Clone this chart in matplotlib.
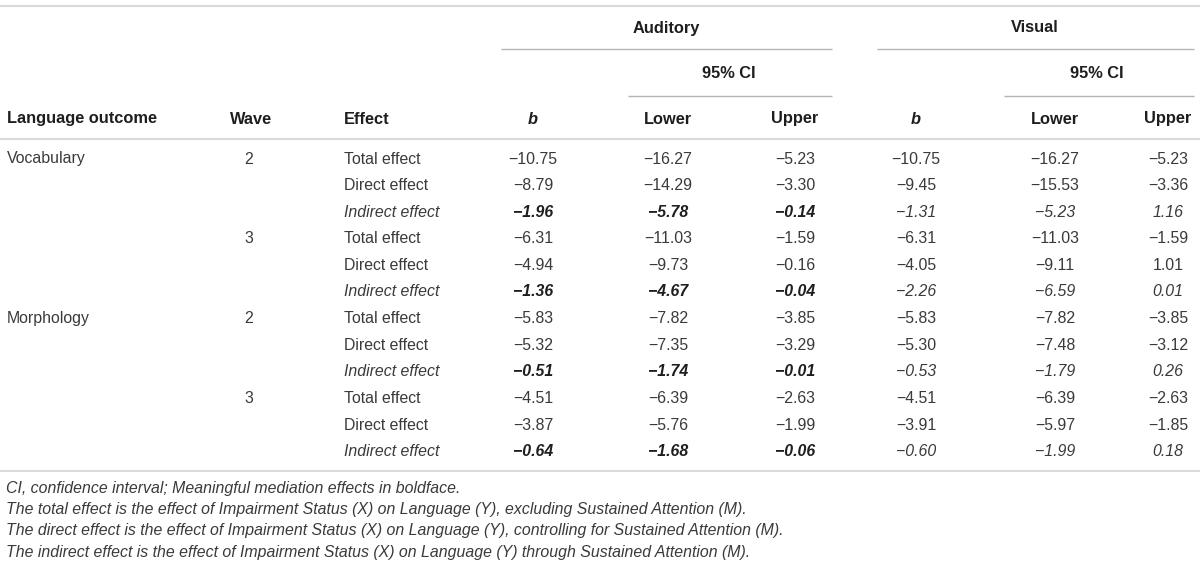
import matplotlib
matplotlib.use("Agg")
import matplotlib.pyplot as plt

plt.rcParams['font.family'] = ['Liberation Sans', 'DejaVu Sans']

# table content
outcomes = ["Vocabulary", "", "", "", "", "", "Morphology", "", "", "", "", ""]
waves = ["2", "", "", "3", "", "", "2", "", "", "3", "", ""]
effects = ["Total effect", "Direct effect", "Indirect effect"] * 4

aud_b = [-10.75, -8.79, -1.96, -6.31, -4.94, -1.36, -5.83, -5.32, -0.51, -4.51, -3.87, -0.64]
aud_lower = [-16.27, -14.29, -5.78, -11.03, -9.73, -4.67, -7.82, -7.35, -1.74, -6.39, -5.76, -1.68]
aud_upper = [-5.23, -3.30, -0.14, -1.59, -0.16, -0.04, -3.85, -3.29, -0.01, -2.63, -1.99, -0.06]
vis_b = [-10.75, -9.45, -1.31, -6.31, -4.05, -2.26, -5.83, -5.30, -0.53, -4.51, -3.91, -0.60]
vis_lower = [-16.27, -15.53, -5.23, -11.03, -9.11, -6.59, -7.82, -7.48, -1.79, -6.39, -5.97, -1.99]
vis_upper = [-5.23, -3.36, 1.16, -1.59, 1.01, 0.01, -3.85, -3.12, 0.26, -2.63, -1.85, 0.18]

col_names = ["b", "Lower", "Upper", "b", "Lower", "Upper"]

footnotes = [
    "CI, confidence interval; Meaningful mediation effects in boldface.",
    "The total effect is the effect of Impairment Status (X) on Language (Y), excluding Sustained Attention (M).",
    "The direct effect is the effect of Impairment Status (X) on Language (Y), controlling for Sustained Attention (M).",
    "The indirect effect is the effect of Impairment Status (X) on Language (Y) through Sustained Attention (M).",
]

TXT = "#3a3a3a"
HDR = "#1e1e1e"
RULE = "#dadada"
SUB = "#b4b4b4"
FS = 11.4
FSB = 11.8
BASE = 5.5  # offset from visual centre of a line of text to its baseline

fig = plt.figure(figsize=(12, 5.66), dpi=100)
ax = fig.add_axes([0, 0, 1, 1])
ax.set_xlim(0, 1200)
ax.set_ylim(566, 0)
ax.axis("off")

def hline(y, x0, x1, color, lw):
    ax.plot([x0, x1], [y, y], color=color, lw=lw, solid_capstyle="butt")

def put(x, y, s, ha="center", bold=False, italic=False, size=FS, color=TXT):
    ax.text(x, y + BASE, s, ha=ha, va="baseline", fontsize=size,
            fontweight="bold" if bold else "normal",
            fontstyle="italic" if italic else "normal", color=color)

def fmt(v):
    s = f"{abs(v):.2f}"
    return ("\u2212" + s) if v < 0 else s

# rules
hline(6, 0, 1200, RULE, 1.5)
hline(49, 501, 832, SUB, 1.0)
hline(49, 877, 1194, SUB, 1.0)
hline(96, 628, 832, SUB, 1.0)
hline(96, 1004, 1194, SUB, 1.0)
hline(139, 0, 1200, RULE, 1.5)
hline(471, 0, 1200, RULE, 1.5)

# group headers
put(666, 27, "Auditory", bold=True, size=FSB, color=HDR)
put(1035, 27, "Visual", bold=True, size=FSB, color=HDR)
put(729, 72, "95% CI", bold=True, size=FSB, color=HDR)
put(1097, 72, "95% CI", bold=True, size=FSB, color=HDR)

# column headers
y_hdr = 118
put(7, y_hdr, "Language outcome", ha="left", bold=True, size=FSB, color=HDR)
put(251, y_hdr, "Wave", bold=True, size=FSB, color=HDR)
put(344, y_hdr, "Effect", ha="left", bold=True, size=FSB, color=HDR)
val_x = [533, 668, 795, 916, 1055, 1168]
for x, name in zip(val_x, col_names):
    put(x, y_hdr, name, bold=True, italic=(name == "b"), size=FSB, color=HDR)

# body
row_y0, row_dy = 158, 26.6
cols = [aud_b, aud_lower, aud_upper, vis_b, vis_lower, vis_upper]
for i in range(len(effects)):
    y = row_y0 + i * row_dy
    indirect = effects[i].startswith("Indirect")
    put(7, y, outcomes[i], ha="left")
    put(249, y, waves[i])
    put(344, y, effects[i], ha="left", italic=indirect)
    for j, (x, col) in enumerate(zip(val_x, cols)):
        bold = indirect and j < 3
        put(x, y, fmt(col[i]), bold=bold, italic=indirect, color=HDR if bold else TXT)

# footnotes
for k, note in enumerate(footnotes):
    put(6, 487 + k * 21.5, note, ha="left", italic=True)

fig.savefig("out.png", dpi=100)
